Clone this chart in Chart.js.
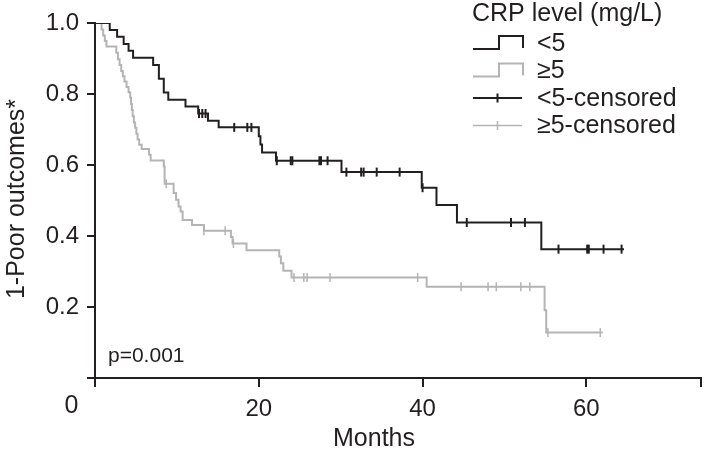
<!DOCTYPE html>
<html lang="en">
<head>
<meta charset="UTF-8">
<title>CRP level survival</title>
<script src="https://cdn.jsdelivr.net/npm/chart.js"></script>
<style>
  html, body { margin: 0; padding: 0; background: #fff; }
  #wrap { width: 709px; height: 453px; }
</style>
</head>
<body>
<div id="wrap"><canvas id="kmChart"></canvas></div>
<script>
// step points (month, value) for each group
const lowMonths  = [0, 1.8, 2.7, 3.5, 4.1, 4.65, 7.1, 7.8, 8.4, 8.95, 11.05, 12.6, 13.8, 15.1, 20.0, 20.2, 20.4, 22.1, 30.1, 39.9, 41.7, 44.2, 54.5, 64.6];
const lowValues  = [1.0, 0.980, 0.961, 0.941, 0.922, 0.902, 0.882, 0.843, 0.804, 0.784, 0.765, 0.745, 0.725, 0.706, 0.681, 0.658, 0.635, 0.612, 0.580, 0.536, 0.487, 0.438, 0.363, 0.363];
const highMonths = [0, 0.8, 1.0, 1.2, 1.4, 2.6, 2.8, 3.0, 3.2, 3.4, 3.6, 3.85, 4.1, 4.3, 4.4, 4.5, 4.6, 4.75, 4.9, 5.05, 5.2, 5.4, 5.7, 6.6, 6.8, 8.4, 8.5, 9.6, 9.9, 10.2, 10.45, 10.7, 11.85, 13.3, 16.6, 16.8, 18.5, 22.5, 22.7, 23.0, 24.0, 40.5, 54.9, 55.1, 62.0];
const highValues = [1.0, 0.982, 0.965, 0.949, 0.934, 0.916, 0.898, 0.882, 0.865, 0.850, 0.835, 0.820, 0.805, 0.790, 0.772, 0.755, 0.737, 0.720, 0.705, 0.688, 0.672, 0.657, 0.645, 0.629, 0.613, 0.596, 0.547, 0.521, 0.502, 0.483, 0.469, 0.445, 0.431, 0.415, 0.397, 0.379, 0.360, 0.342, 0.323, 0.302, 0.283, 0.257, 0.191, 0.128, 0.128];
// censored times
const lowCensored  = [12.7, 13.1, 13.5, 17.0, 18.6, 19.1, 22.2, 23.9, 24.1, 27.4, 27.6, 28.4, 30.7, 32.5, 32.8, 34.4, 37.2, 40.0, 45.4, 50.8, 52.5, 56.6, 60.1, 60.3, 62.1, 64.3];
const highCensored = [8.7, 13.3, 15.9, 16.9, 24.3, 25.5, 25.9, 28.7, 39.4, 44.7, 48.0, 49.0, 52.0, 53.1, 55.3, 61.7];

const yTicks = [0, 0.2, 0.4, 0.6, 0.8, 1.0];
const xTicks = [0, 20, 40, 60];
const legendLabels = ['<5', '\u22655', '<5-censored', '\u22655-censored'];

const DARK = '#231f20';
const GREY = '#b4b4b4';
const FONT = '"Liberation Sans", Arial, sans-serif';

function levelAt(months, values, t) {
    let v = values[0];
    for (let i = 0; i < months.length; i++) {
        if (months[i] <= t) v = values[i];
    }
    return v;
}

const lowPts  = lowMonths.map((m, i) => ({x: m, y: lowValues[i]}));
const highPts = highMonths.map((m, i) => ({x: m, y: highValues[i]}));
const lowCens  = lowCensored.map(t => ({x: t, y: levelAt(lowMonths, lowValues, t)}));
const highCens = highCensored.map(t => ({x: t, y: levelAt(highMonths, highValues, t)}));

// legend, axis titles and loose labels
const extras = {
    id: 'extras',
    afterDraw(chart) {
        const ctx = chart.ctx;
        ctx.save();
        ctx.fillStyle = DARK;
        ctx.font = '25px ' + FONT;
        ctx.textBaseline = 'alphabetic';
        ctx.textAlign = 'left';
        ctx.fillText('CRP level (mg/L)', 472, 21);

        const rows = [43, 70.5, 98, 125.5];
        ctx.lineWidth = 2;
        [DARK, GREY].forEach((c, i) => {
            const y = rows[i];
            ctx.strokeStyle = c;
            ctx.beginPath();
            ctx.moveTo(473, y + 6);
            ctx.lineTo(499, y + 6);
            ctx.lineTo(499, y - 7);
            ctx.lineTo(523, y - 7);
            ctx.lineTo(523, y + 5);
            ctx.stroke();
        });
        [DARK, GREY].forEach((c, i) => {
            const y = rows[i + 2];
            ctx.strokeStyle = c;
            ctx.lineWidth = i ? 1.5 : 2;
            ctx.beginPath();
            ctx.moveTo(473, y);
            ctx.lineTo(522, y);
            ctx.moveTo(497.5, y - 4.5);
            ctx.lineTo(497.5, y + 4.5);
            ctx.stroke();
        });
        ctx.textBaseline = 'middle';
        legendLabels.forEach((t, i) => ctx.fillText(t, 537, rows[i] + 1));

        ctx.font = '21px ' + FONT;
        ctx.fillText('p=0.001', 108, 356);

        ctx.font = '25px ' + FONT;
        ctx.textAlign = 'center';
        ctx.fillText('0', 71.5, 406);
        ctx.fillText('Months', 374, 439);

        ctx.translate(17, 199);
        ctx.rotate(-Math.PI / 2);
        ctx.fillText('1-Poor outcomes*', 0, 0);
        ctx.restore();
    }
};

const ctx = document.getElementById('kmChart').getContext('2d');
new Chart(ctx, {
    type: 'line',
    data: {
        datasets: [
            {
                label: '<5',
                data: lowPts,
                stepped: 'before',
                borderColor: DARK,
                borderWidth: 2,
                pointRadius: 0,
                fill: false
            },
            {
                label: '\u22655',
                data: highPts,
                stepped: 'before',
                borderColor: GREY,
                borderWidth: 2,
                pointRadius: 0,
                fill: false
            },
            {
                label: '<5-censored',
                data: lowCens,
                showLine: false,
                pointStyle: 'line',
                rotation: 90,
                pointRadius: 4.5,
                borderColor: DARK,
                pointBorderWidth: 2
            },
            {
                label: '\u22655-censored',
                data: highCens,
                showLine: false,
                pointStyle: 'line',
                rotation: 90,
                pointRadius: 4.5,
                borderColor: GREY,
                pointBorderWidth: 1.5
            }
        ]
    },
    options: {
        responsive: true,
        maintainAspectRatio: false,
        animation: false,
        layout: { padding: { top: 23, right: 1, left: 0, bottom: 0 } },
        plugins: { legend: { display: false }, tooltip: { enabled: false } },
        scales: {
            x: {
                type: 'linear',
                min: 0,
                max: 74,
                afterFit: s => { s.height = 75; },
                afterBuildTicks: s => {
                    s.ticks = xTicks.concat([74]).map(v => ({value: v}));
                },
                border: { color: DARK, width: 2 },
                grid: { drawOnChartArea: false, color: DARK, lineWidth: 2, tickLength: 9 },
                ticks: {
                    color: DARK,
                    padding: 8,
                    maxRotation: 0,
                    font: { family: FONT, size: 24 },
                    callback: v => (v === 0 || v === 74) ? '' : String(v)
                }
            },
            y: {
                min: 0,
                max: 1,
                afterFit: s => { s.width = 95; },
                afterBuildTicks: s => {
                    s.ticks = yTicks.map(v => ({value: v}));
                },
                border: { color: DARK, width: 2 },
                grid: { drawOnChartArea: false, color: DARK, lineWidth: 2, tickLength: 8 },
                ticks: {
                    color: DARK,
                    padding: 8,
                    font: { family: FONT, size: 24 },
                    callback: v => v === 0 ? '' : v.toFixed(1)
                }
            }
        }
    },
    plugins: [extras]
});
</script>
</body>
</html>
